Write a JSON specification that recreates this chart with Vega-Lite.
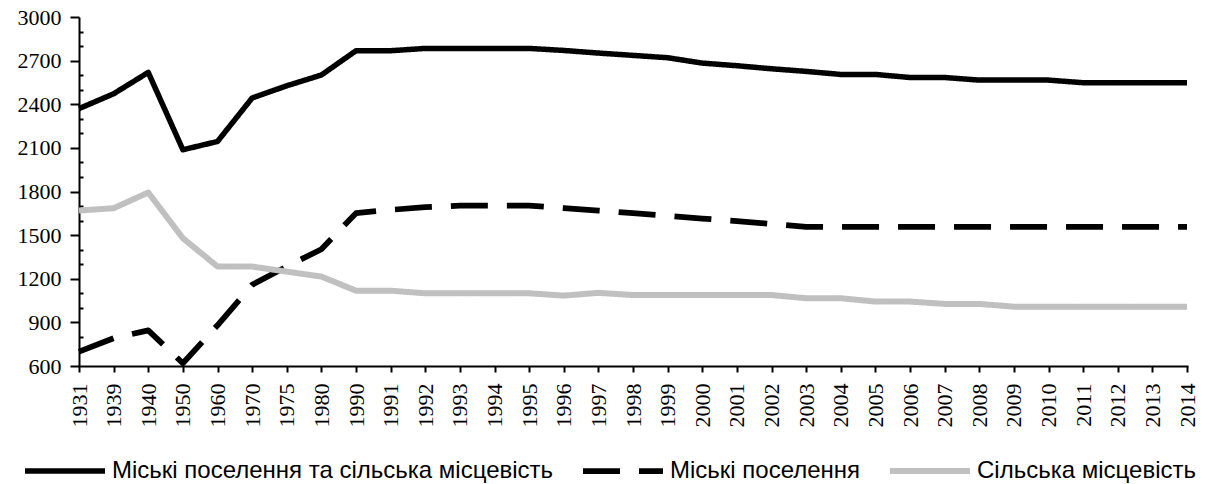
{
  "$schema": "https://vega.github.io/schema/vega-lite/v6.json",
  "autosize": {"type": "none"},
  "padding": {"left": 79, "top": 17, "right": 21, "bottom": 118},
  "width": 1108,
  "height": 349,
  "background": "white",
  "config": {
    "view": {"stroke": null},
    "axis": {"grid": false, "domainColor": "black", "domainWidth": 2, "tickColor": "black", "tickWidth": 2, "labelColor": "black", "labelFont": "Liberation Serif", "labelFontSize": 22, "title": null}
  },
  "data": {
    "values": [
      {"year": "1931", "series": "Міські поселення та сільська місцевість", "value": 2370},
      {"year": "1939", "series": "Міські поселення та сільська місцевість", "value": 2472},
      {"year": "1940", "series": "Міські поселення та сільська місцевість", "value": 2619},
      {"year": "1950", "series": "Міські поселення та сільська місцевість", "value": 2087},
      {"year": "1960", "series": "Міські поселення та сільська місцевість", "value": 2144},
      {"year": "1970", "series": "Міські поселення та сільська місцевість", "value": 2443},
      {"year": "1975", "series": "Міські поселення та сільська місцевість", "value": 2527},
      {"year": "1980", "series": "Міські поселення та сільська місцевість", "value": 2601},
      {"year": "1990", "series": "Міські поселення та сільська місцевість", "value": 2768},
      {"year": "1991", "series": "Міські поселення та сільська місцевість", "value": 2768},
      {"year": "1992", "series": "Міські поселення та сільська місцевість", "value": 2784},
      {"year": "1993", "series": "Міські поселення та сільська місцевість", "value": 2784},
      {"year": "1994", "series": "Міські поселення та сільська місцевість", "value": 2784},
      {"year": "1995", "series": "Міські поселення та сільська місцевість", "value": 2784},
      {"year": "1996", "series": "Міські поселення та сільська місцевість", "value": 2770},
      {"year": "1997", "series": "Міські поселення та сільська місцевість", "value": 2752},
      {"year": "1998", "series": "Міські поселення та сільська місцевість", "value": 2736},
      {"year": "1999", "series": "Міські поселення та сільська місцевість", "value": 2720},
      {"year": "2000", "series": "Міські поселення та сільська місцевість", "value": 2683},
      {"year": "2001", "series": "Міські поселення та сільська місцевість", "value": 2665},
      {"year": "2002", "series": "Міські поселення та сільська місцевість", "value": 2644},
      {"year": "2003", "series": "Міські поселення та сільська місцевість", "value": 2626},
      {"year": "2004", "series": "Міські поселення та сільська місцевість", "value": 2605},
      {"year": "2005", "series": "Міські поселення та сільська місцевість", "value": 2605},
      {"year": "2006", "series": "Міські поселення та сільська місцевість", "value": 2584},
      {"year": "2007", "series": "Міські поселення та сільська місцевість", "value": 2584},
      {"year": "2008", "series": "Міські поселення та сільська місцевість", "value": 2566},
      {"year": "2009", "series": "Міські поселення та сільська місцевість", "value": 2566},
      {"year": "2010", "series": "Міські поселення та сільська місцевість", "value": 2566},
      {"year": "2011", "series": "Міські поселення та сільська місцевість", "value": 2548},
      {"year": "2012", "series": "Міські поселення та сільська місцевість", "value": 2548},
      {"year": "2013", "series": "Міські поселення та сільська місцевість", "value": 2548},
      {"year": "2014", "series": "Міські поселення та сільська місцевість", "value": 2548},
      {"year": "1931", "series": "Міські поселення", "value": 699},
      {"year": "1939", "series": "Міські поселення", "value": 791},
      {"year": "1940", "series": "Міські поселення", "value": 845},
      {"year": "1950", "series": "Міські поселення", "value": 619},
      {"year": "1960", "series": "Міські поселення", "value": 880},
      {"year": "1970", "series": "Міські поселення", "value": 1158},
      {"year": "1975", "series": "Міські поселення", "value": 1284},
      {"year": "1980", "series": "Міські поселення", "value": 1403},
      {"year": "1990", "series": "Міські поселення", "value": 1651},
      {"year": "1991", "series": "Міські поселення", "value": 1674},
      {"year": "1992", "series": "Міські поселення", "value": 1692},
      {"year": "1993", "series": "Міські поселення", "value": 1703},
      {"year": "1994", "series": "Міські поселення", "value": 1703},
      {"year": "1995", "series": "Міські поселення", "value": 1703},
      {"year": "1996", "series": "Міські поселення", "value": 1685},
      {"year": "1997", "series": "Міські поселення", "value": 1669},
      {"year": "1998", "series": "Міські поселення", "value": 1651},
      {"year": "1999", "series": "Міські поселення", "value": 1633},
      {"year": "2000", "series": "Міські поселення", "value": 1614},
      {"year": "2001", "series": "Міські поселення", "value": 1596},
      {"year": "2002", "series": "Міські поселення", "value": 1577},
      {"year": "2003", "series": "Міські поселення", "value": 1557},
      {"year": "2004", "series": "Міські поселення", "value": 1557},
      {"year": "2005", "series": "Міські поселення", "value": 1557},
      {"year": "2006", "series": "Міські поселення", "value": 1557},
      {"year": "2007", "series": "Міські поселення", "value": 1557},
      {"year": "2008", "series": "Міські поселення", "value": 1557},
      {"year": "2009", "series": "Міські поселення", "value": 1557},
      {"year": "2010", "series": "Міські поселення", "value": 1557},
      {"year": "2011", "series": "Міські поселення", "value": 1557},
      {"year": "2012", "series": "Міські поселення", "value": 1557},
      {"year": "2013", "series": "Міські поселення", "value": 1557},
      {"year": "2014", "series": "Міські поселення", "value": 1557},
      {"year": "1931", "series": "Сільська місцевість", "value": 1669},
      {"year": "1939", "series": "Сільська місцевість", "value": 1685},
      {"year": "1940", "series": "Сільська місцевість", "value": 1793},
      {"year": "1950", "series": "Сільська місцевість", "value": 1479},
      {"year": "1960", "series": "Сільська місцевість", "value": 1284},
      {"year": "1970", "series": "Сільська місцевість", "value": 1284},
      {"year": "1975", "series": "Сільська місцевість", "value": 1249},
      {"year": "1980", "series": "Сільська місцевість", "value": 1215},
      {"year": "1990", "series": "Сільська місцевість", "value": 1118},
      {"year": "1991", "series": "Сільська місцевість", "value": 1118},
      {"year": "1992", "series": "Сільська місцевість", "value": 1100},
      {"year": "1993", "series": "Сільська місцевість", "value": 1100},
      {"year": "1994", "series": "Сільська місцевість", "value": 1100},
      {"year": "1995", "series": "Сільська місцевість", "value": 1100},
      {"year": "1996", "series": "Сільська місцевість", "value": 1084},
      {"year": "1997", "series": "Сільська місцевість", "value": 1103},
      {"year": "1998", "series": "Сільська місцевість", "value": 1088},
      {"year": "1999", "series": "Сільська місцевість", "value": 1088},
      {"year": "2000", "series": "Сільська місцевість", "value": 1088},
      {"year": "2001", "series": "Сільська місцевість", "value": 1088},
      {"year": "2002", "series": "Сільська місцевість", "value": 1088},
      {"year": "2003", "series": "Сільська місцевість", "value": 1066},
      {"year": "2004", "series": "Сільська місцевість", "value": 1066},
      {"year": "2005", "series": "Сільська місцевість", "value": 1043},
      {"year": "2006", "series": "Сільська місцевість", "value": 1043},
      {"year": "2007", "series": "Сільська місцевість", "value": 1027},
      {"year": "2008", "series": "Сільська місцевість", "value": 1027},
      {"year": "2009", "series": "Сільська місцевість", "value": 1008},
      {"year": "2010", "series": "Сільська місцевість", "value": 1008},
      {"year": "2011", "series": "Сільська місцевість", "value": 1008},
      {"year": "2012", "series": "Сільська місцевість", "value": 1008},
      {"year": "2013", "series": "Сільська місцевість", "value": 1008},
      {"year": "2014", "series": "Сільська місцевість", "value": 1008}
    ]
  },
  "layer": [
    {
      "mark": {"type": "line", "strokeOpacity": 0},
      "encoding": {
        "x": {
          "field": "year", "type": "ordinal",
          "scale": {"type": "point", "padding": 0},
          "axis": {"labelAngle": -90, "tickSize": 6, "labelPadding": 11, "domainCap": "square"}
        },
        "y": {
          "field": "value", "type": "quantitative",
          "scale": {"domain": [600, 3000], "nice": false, "zero": false},
          "axis": {"orient": "left", "values": [700, 800, 1000, 1100, 1300, 1400, 1600, 1700, 1900, 2000, 2200, 2300, 2500, 2600, 2800, 2900], "labels": false, "domain": false, "tickSize": -4}
        },
        "detail": {"field": "series"}
      }
    },
    {
      "mark": {"type": "line", "strokeCap": "butt", "strokeJoin": "round"},
      "encoding": {
        "x": {
          "field": "year", "type": "ordinal",
          "scale": {"type": "point", "padding": 0},
          "axis": {"labelAngle": -90, "tickSize": 6, "labelPadding": 11, "domainCap": "square"}
        },
        "y": {
          "field": "value", "type": "quantitative",
          "scale": {"domain": [600, 3000], "nice": false, "zero": false},
          "axis": {"orient": "left", "values": [600, 900, 1200, 1500, 1800, 2100, 2400, 2700, 3000], "format": "d", "tickSize": 9, "labelPadding": 9}
        },
        "color": {
          "field": "series", "type": "nominal",
          "scale": {"domain": ["Міські поселення та сільська місцевість", "Міські поселення", "Сільська місцевість"], "range": ["#000000", "#000000", "#c0c0c0"]},
          "legend": {"title": null, "orient": "none", "direction": "horizontal", "columns": 3, "legendX": -57, "legendY": 411, "symbolType": "stroke", "symbolSize": 6400, "labelFont": "Liberation Sans", "labelFontSize": 24, "labelColor": "black", "labelOffset": 4, "labelLimit": 600, "columnPadding": 17}
        },
        "strokeDash": {
          "field": "series", "type": "nominal",
          "scale": {"domain": ["Міські поселення та сільська місцевість", "Міські поселення", "Сільська місцевість"], "range": [[1, 0], [37, 19], [1, 0]]},
          "legend": {"title": null, "orient": "none", "direction": "horizontal", "columns": 3, "legendX": -57, "legendY": 411, "symbolType": "stroke", "symbolSize": 6400, "labelFont": "Liberation Sans", "labelFontSize": 24, "labelColor": "black", "labelOffset": 4, "labelLimit": 600, "columnPadding": 17}
        },
        "strokeWidth": {
          "field": "series", "type": "nominal",
          "scale": {"domain": ["Міські поселення та сільська місцевість", "Міські поселення", "Сільська місцевість"], "range": [5.5, 6, 7.5]},
          "legend": {"title": null, "orient": "none", "direction": "horizontal", "columns": 3, "legendX": -57, "legendY": 411, "symbolType": "stroke", "symbolSize": 6400, "labelFont": "Liberation Sans", "labelFontSize": 24, "labelColor": "black", "labelOffset": 4, "labelLimit": 600, "columnPadding": 17}
        }
      }
    }
  ],
  "resolve": {"axis": {"y": "independent"}}
}
